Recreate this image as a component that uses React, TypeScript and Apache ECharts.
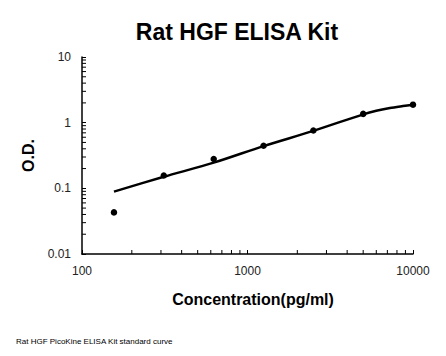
import React, { useEffect, useRef } from "react";
import * as echarts from "echarts";

const titleText = "Rat HGF ELISA Kit";
const xName = "Concentration(pg/ml)";
const yName = "O.D.";
const footnote = "Rat HGF PicoKine ELISA Kit standard curve";

const pointX = [156, 312, 625, 1250, 2500, 5000, 10000];
const pointY = [0.043, 0.157, 0.28, 0.445, 0.76, 1.36, 1.88];

const curveX = [156, 312, 625, 1250, 2500, 5000, 6000, 7250, 8700, 10000];
const curveY = [0.089, 0.15, 0.246, 0.44, 0.75, 1.34, 1.52, 1.67, 1.79, 1.88];

const xMinorTicks = [200, 300, 400, 500, 600, 700, 800, 900, 2000, 3000, 4000, 5000, 6000, 7000, 8000, 9000];
const yMinorTicks = [0.02, 0.03, 0.04, 0.05, 0.06, 0.07, 0.08, 0.09, 0.2, 0.3, 0.4, 0.5, 0.6, 0.7, 0.8, 0.9, 2, 3, 4, 5, 6, 7, 8, 9];

const X_MIN = 100;
const X_MAX = 10000;
const Y_MIN = 0.01;
const Y_MAX = 10;

const FONT = "'Liberation Sans', Arial, sans-serif";

export default function App() {
  const ref = useRef<HTMLDivElement>(null);

  useEffect(() => {
    if (!ref.current) return;
    const chart = echarts.init(ref.current, undefined, { renderer: "svg" });
    const fmt = (v: number) => String(Number(v.toPrecision(3)));
    chart.setOption({
      animation: false,
      backgroundColor: "#ffffff",
      grid: { left: 82, right: 33, top: 57, bottom: 102, outerBoundsMode: "none" },
      xAxis: {
        type: "log",
        logBase: 10,
        min: X_MIN,
        max: X_MAX,
        axisLine: { show: true, lineStyle: { color: "#000", width: 1.5 } },
        axisTick: { show: true, inside: true, length: 4, lineStyle: { color: "#000", width: 1 } },
        minorTick: { show: false },
        splitLine: { show: false },
        axisLabel: { color: "#222", fontSize: 12, fontFamily: FONT, margin: 11, formatter: fmt },
      },
      yAxis: {
        type: "log",
        logBase: 10,
        min: Y_MIN,
        max: Y_MAX,
        axisLine: { show: true, lineStyle: { color: "#000", width: 1.5 } },
        axisTick: { show: true, inside: true, length: 4, lineStyle: { color: "#000", width: 1 } },
        minorTick: { show: false },
        splitLine: { show: false },
        axisLabel: { color: "#222", fontSize: 12, fontFamily: FONT, margin: 11, formatter: fmt },
        name: yName,
        nameLocation: "middle",
        nameRotate: 90,
        nameGap: 45,
        nameTextStyle: { color: "#000", fontSize: 16, fontWeight: "bold", fontFamily: FONT },
      },
      graphic: [
        {
          type: "text",
          x: 237,
          y: 32,
          style: {
            text: titleText,
            font: `bold 23px ${FONT}`,
            fill: "#000",
            textAlign: "center",
            textVerticalAlign: "middle",
          },
        },
        {
          type: "text",
          x: 253,
          y: 299,
          style: {
            text: xName,
            font: `bold 16px ${FONT}`,
            fill: "#000",
            textAlign: "center",
            textVerticalAlign: "middle",
          },
        },
        {
          type: "text",
          x: 16,
          y: 341,
          style: {
            text: footnote,
            font: `8px ${FONT}`,
            fill: "#000",
            textAlign: "left",
            textVerticalAlign: "middle",
          },
        },
      ],
      series: [
        {
          type: "line",
          data: curveX.map((x, i) => [x, curveY[i]]),
          smooth: 0.3,
          showSymbol: false,
          symbol: "none",
          lineStyle: { color: "#000", width: 2.5 },
          z: 2,
        },
        {
          type: "scatter",
          data: pointX.map((x, i) => [x, pointY[i]]),
          symbol: "circle",
          symbolSize: 6.5,
          itemStyle: { color: "#000", opacity: 1 },
          z: 3,
        },
        {
          type: "custom",
          clip: false,
          silent: true,
          data: xMinorTicks.map((v) => [v, Y_MIN]),
          renderItem: (params: any, api: any) => {
            const p = api.coord([api.value(0), api.value(1)]);
            return {
              type: "line",
              shape: { x1: p[0], y1: p[1], x2: p[0], y2: p[1] - 4 },
              style: { stroke: "#000", lineWidth: 1 },
            };
          },
          z: 4,
        },
        {
          type: "custom",
          clip: false,
          silent: true,
          data: yMinorTicks.map((v) => [X_MIN, v]),
          renderItem: (params: any, api: any) => {
            const p = api.coord([api.value(0), api.value(1)]);
            return {
              type: "line",
              shape: { x1: p[0], y1: p[1], x2: p[0] + 4, y2: p[1] },
              style: { stroke: "#000", lineWidth: 1 },
            };
          },
          z: 4,
        },
      ],
    });
    return () => chart.dispose();
  }, []);

  return <div ref={ref} style={{ width: 446, height: 356, position: "absolute", left: 0, top: 0 }} />;
}
